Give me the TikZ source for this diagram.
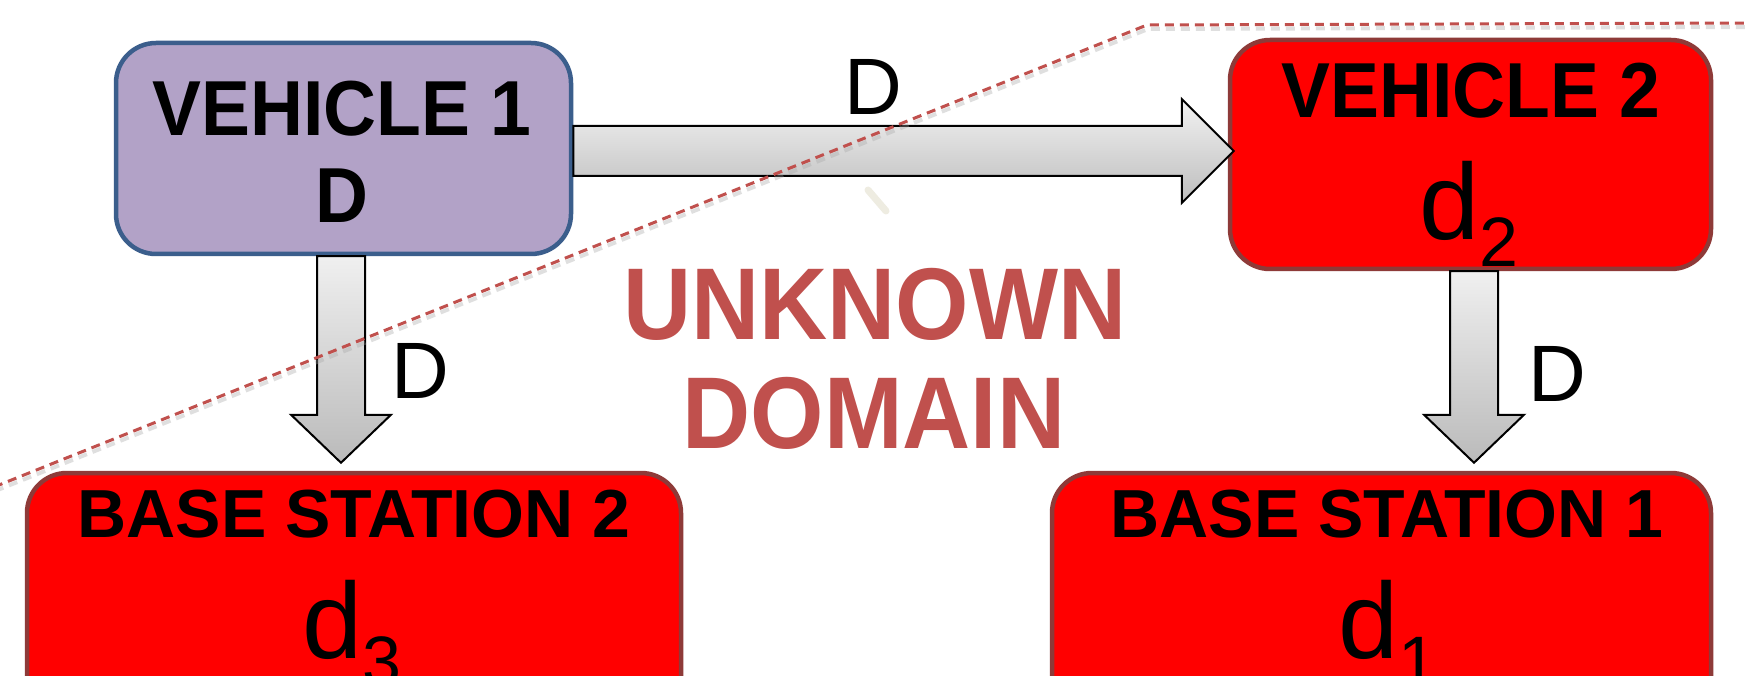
\documentclass[tikz,border=0pt]{standalone}
\usepackage{fontspec}
\setmainfont{Liberation Sans}
\newfontfamily\narrowsans{Liberation Sans}[FakeStretch=0.94]
\newfontfamily\domainsans{Liberation Sans}[FakeStretch=0.925]
\usetikzlibrary{calc}

\definecolor{lavfill}{HTML}{B2A2C7}
\definecolor{lavline}{HTML}{3B5E8C}
\definecolor{boxred}{HTML}{FF0000}
\definecolor{redline}{HTML}{8E3A38}
\definecolor{domred}{HTML}{C0504D}
\definecolor{speck}{HTML}{EEECE1}

\tikzset{
  vehbox/.style={draw=lavline, fill=lavfill, line width=4.5pt, rounded corners=40pt, inner sep=0pt},
  redbox/.style={draw=redline, fill=boxred, line width=4.5pt, rounded corners=40pt, inner sep=0pt},
  harrow/.style={draw=black, line width=2pt, line join=miter, top color=black!5, bottom color=black!26},
  varrow/.style={draw=black, line width=2pt, line join=miter, top color=black!6, bottom color=black!27},
  lbl/.style={inner sep=0pt, anchor=base},
  boldtxt/.style={lbl, font=\narrowsans\bfseries\fontsize{78}{78}\selectfont},
  bstxt/.style={lbl, font=\bfseries\fontsize{68}{68}\selectfont},
  dlabel/.style={inner sep=0pt, anchor=base west, font=\fontsize{80}{80}\selectfont},
  subval/.style={inner sep=0pt, anchor=base west, font=\fontsize{108}{108}\selectfont},
  domaintxt/.style={lbl, text=domred, font=\domainsans\bfseries\fontsize{102}{102}\selectfont},
  border line/.style={draw=domred, line width=3pt, dash pattern=on 9pt off 6pt},
  border shadow/.style={draw=black!35, line width=4pt, opacity=0.35, dash pattern=on 9pt off 6pt}
}

% right-pointing block arrow from #1 to the tip #2
\newcommand{\hblockarrow}[2]{%
  \draw[harrow] ($(#1)+(0,-25)$) -- ($(#2)+(-52,-25)$) -- ($(#2)+(-52,-52)$) -- (#2)
    -- ($(#2)+(-52,52)$) -- ($(#2)+(-52,25)$) -- ($(#1)+(0,25)$) -- cycle;}
% downward block arrow from #1 to the tip #2
\newcommand{\vblockarrow}[2]{%
  \draw[varrow] ($(#1)+(-24,0)$) -- ($(#2)+(-24,-48)$) -- ($(#2)+(-50,-48)$) -- (#2)
    -- ($(#2)+(50,-48)$) -- ($(#2)+(24,-48)$) -- ($(#1)+(24,0)$) -- cycle;}

\newcommand{\subidx}[1]{\raisebox{-27pt}{\fontsize{70}{70}\selectfont #1}}

\begin{document}
\begin{tikzpicture}[x=1pt, y=-1pt]
  \useasboundingbox (0,0) rectangle (1746,676);
  \clip (0,0) rectangle (1746,676);
  \fill[white] (0,0) rectangle (1746,676);

  % boxes
  \node[vehbox, minimum width=455pt, minimum height=211pt] (v1) at (343.5,148.5) {};
  \node[redbox, minimum width=481pt, minimum height=229pt] (v2) at (1470.5,154.5) {};
  \node[redbox, minimum width=654pt, minimum height=300pt] (bs2) at (354,623) {};
  \node[redbox, minimum width=659pt, minimum height=300pt] (bs1) at (1381.5,623) {};

  % box texts
  \node[boldtxt] (v1name) at (342,136) {VEHICLE 1};
  \node[boldtxt] (v1val) at (342,223) {D};
  \node[boldtxt] (v2name) at (1471,118) {VEHICLE 2};
  \node[subval] (v2val) at (1419,240) {d\subidx{2}};
  \node[bstxt] (bs2name) at (354,537) {BASE STATION 2};
  \node[subval] (bs2val) at (302,658) {d\subidx{3}};
  \node[bstxt] (bs1name) at (1387,537) {BASE STATION 1};
  \node[subval] (bs1val) at (1338,658) {d\subidx{1}};

  % connector end points
  \coordinate (hs) at ($(v1.east)+(0,2.5)$);
  \coordinate (ht) at ($(v2.west)+(6,-3.5)$);
  \coordinate (ls) at ($(v1.south)+(-2.5,0)$);
  \coordinate (lt) at ($(bs2.north)+(-13,-8)$);
  \coordinate (rs) at ($(v2.south)+(3.5,0)$);
  \coordinate (rt) at ($(bs1.north)+(92.5,-8)$);

  \hblockarrow{hs}{ht}
  \vblockarrow{ls}{lt}
  \vblockarrow{rs}{rt}

  % arrow labels
  \node[dlabel] (dtop) at (844,115) {D};
  \node[dlabel] (dleft) at (391,398) {D};
  \node[dlabel] (dright) at (1528,401) {D};

  % faint speck
  \draw[speck, line width=7pt, line cap=round] (868,190) -- (886,211);

  % domain boundary
  \coordinate (b0) at (-6,487);
  \coordinate (b1) at (1147,25);
  \coordinate (b2) at (1752,23);
  \draw[border shadow] ($(b0)+(1,4)$) -- ($(b1)+(1,4)$) -- ($(b2)+(1,4)$);
  \draw[border line] (b0) -- (b1) -- (b2);

  % unknown domain label
  \node[domaintxt] (unk) at (875,340) {UNKNOWN};
  \node[domaintxt] (dom) at (874,448) {DOMAIN};
\end{tikzpicture}
\end{document}
